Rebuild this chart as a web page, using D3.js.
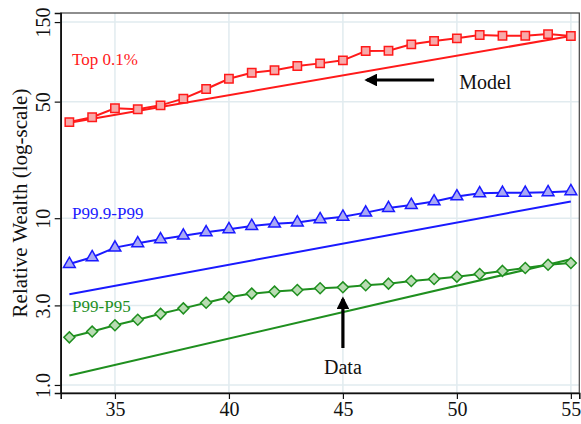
<!DOCTYPE html>
<html>
<head>
<meta charset="utf-8">
<script src="https://cdn.jsdelivr.net/npm/d3@7"></script>
<style>
  body { margin: 0; background: #fff; }
  svg { display: block; }
</style>
</head>
<body>
<div id="chart"></div>
<script>
// ages on the x axis
var ages = [33,34,35,36,37,38,39,40,41,42,43,44,45,46,47,48,49,50,51,52,53,54,55];

// data (markers)
var top01Data = [37.7,40.3,45.6,45.0,47.5,52.1,59.5,68.6,74.5,77.1,81.8,84.8,88.4,100.6,101,110.3,115.5,119.8,125.4,124.2,124.2,127.1,123.7];
var p999Data  = [5.31,5.83,6.66,7.07,7.47,7.86,8.23,8.58,8.98,9.27,9.42,9.85,10.2,10.8,11.5,12.0,12.6,13.5,14.1,14.2,14.2,14.3,14.5];
var p99Data   = [1.93,2.09,2.28,2.46,2.67,2.88,3.11,3.36,3.53,3.63,3.71,3.80,3.85,3.96,4.05,4.20,4.32,4.46,4.63,4.83,5.03,5.26,5.39];

// model (straight lines in log scale, end points)
var modelAges  = [33, 55];
var top01Model = [37.4, 123.7];
var p999Model  = [3.50, 12.6];
var p99Model   = [1.14, 5.67];

var xTicks = [35, 40, 45, 50, 55];
var yTicks = [1, 3, 10, 50, 150];
var yTickLabels = ["1.0", "3.0", "10", "50", "150"];

var W = 581, H = 424;
var m = {left: 60.7, right: 1.7, top: 13, bottom: 31};
var serif = "'Liberation Serif', 'Times New Roman', serif";

var svg = d3.select("#chart").append("svg")
    .attr("width", W).attr("height", H);

var x = d3.scaleLinear().domain([32.62, 55.37]).range([m.left, W - m.right]);
var y = d3.scaleLog().domain([0.895, 170]).range([H - m.bottom, m.top]);

//gridlines
var grid = svg.append("g");
grid.selectAll(".gx").data(xTicks).enter().append("line")
    .attr("x1", d => x(d)).attr("x2", d => x(d))
    .attr("y1", m.top).attr("y2", H - m.bottom)
    .attr("stroke", "#e1ebef").attr("stroke-width", 1.5);
grid.selectAll(".gy").data(yTicks).enter().append("line")
    .attr("x1", m.left).attr("x2", W - m.right)
    .attr("y1", d => y(d)).attr("y2", d => y(d))
    .attr("stroke", "#e1ebef").attr("stroke-width", 1.5);

//frame
svg.append("rect")
    .attr("x", m.left).attr("y", m.top)
    .attr("width", W - m.right - m.left).attr("height", H - m.bottom - m.top)
    .attr("fill", "none").attr("stroke", "#444").attr("stroke-width", 1.2);

//axes
var xAxis = svg.append("g")
    .attr("transform", "translate(0," + (H - m.bottom) + ")")
    .call(d3.axisBottom(x).tickValues(xTicks).tickSize(6).tickPadding(3).tickFormat(d3.format("d")));
xAxis.select(".domain").attr("stroke", "#111").attr("stroke-width", 1.6);
xAxis.selectAll(".tick line").attr("stroke", "#111").attr("stroke-width", 1.2);
xAxis.selectAll(".tick text")
    .attr("font-family", serif).attr("font-size", 20).attr("fill", "#111");

var yAxis = svg.append("g")
    .attr("transform", "translate(" + m.left + ",0)")
    .call(d3.axisLeft(y).tickValues(yTicks).tickSize(6)
      .tickFormat(function(d, i) { return yTickLabels[i]; }));
yAxis.select(".domain").attr("stroke", "#111").attr("stroke-width", 1.6);
yAxis.selectAll(".tick line").attr("stroke", "#111").attr("stroke-width", 1.2);
yAxis.selectAll(".tick text")
    .attr("font-family", serif).attr("font-size", 20).attr("fill", "#111")
    .attr("x", 0).attr("dy", 0)
    .attr("text-anchor", "middle")
    .attr("transform", "translate(-11,0) rotate(-90)");

svg.append("text")
    .attr("transform", "translate(26.5," + ((m.top + H - m.bottom) / 2) + ") rotate(-90)")
    .attr("text-anchor", "middle")
    .attr("font-family", serif).attr("font-size", 21).attr("fill", "#111")
    .text("Relative Wealth (log-scale)");

// diamond drawn as a square turned 45 degrees
var diamondSym = {
  draw: function(ctx, size) {
    var r = Math.sqrt(size / 2);
    ctx.moveTo(0, -r); ctx.lineTo(r, 0); ctx.lineTo(0, r); ctx.lineTo(-r, 0); ctx.closePath();
  }
};

var series = [
  {data: top01Data, model: top01Model, color: "#ff1a1a", fill: "#f7aaaa", shape: d3.symbolSquare, size: 70},
  {data: p999Data,  model: p999Model,  color: "#1a1aff", fill: "#a9a9f5", shape: d3.symbolTriangle, size: 60},
  {data: p99Data,   model: p99Model,   color: "#1f8f1f", fill: "#b9dcb3", shape: diamondSym, size: 60}
];

var line = d3.line().x(d => x(d[0])).y(d => y(d[1]));

series.forEach(function(s) {
  var g = svg.append("g");
  g.append("path")
    .datum(modelAges.map((a, i) => [a, s.model[i]]))
    .attr("d", line).attr("fill", "none")
    .attr("stroke", s.color).attr("stroke-width", 2);
  var pts = ages.map((a, i) => [a, s.data[i]]);
  g.append("path")
    .datum(pts)
    .attr("d", line).attr("fill", "none")
    .attr("stroke", s.color).attr("stroke-width", 2);
  g.selectAll(".pt").data(pts).enter().append("path")
    .attr("transform", d => "translate(" + x(d[0]) + "," + y(d[1]) + ")")
    .attr("d", d3.symbol().type(s.shape).size(s.size))
    .attr("fill", s.fill).attr("stroke", s.color).attr("stroke-width", 1.5);
});

//group labels
var labels = [
  {text: "Top 0.1%", color: "#ff1a1a", xv: 33.12, yp: 65},
  {text: "P99.9-P99", color: "#1a1aff", xv: 33.12, yp: 219},
  {text: "P99-P95", color: "#1f8f1f", xv: 33.12, yp: 312}
];
svg.selectAll(".lab").data(labels).enter().append("text")
    .attr("x", d => x(d.xv)).attr("y", d => d.yp)
    .attr("font-family", serif).attr("font-size", 17)
    .attr("fill", d => d.color).text(d => d.text);

//annotations
var defs = svg.append("defs");
defs.append("marker")
    .attr("id", "ah").attr("viewBox", "0 0 10 10")
    .attr("refX", 8).attr("refY", 5)
    .attr("markerWidth", 4).attr("markerHeight", 4)
    .attr("orient", "auto")
  .append("path").attr("d", "M0,0 L10,5 L0,10 Z").attr("fill", "#000");

svg.append("line")
    .attr("x1", x(49.0)).attr("x2", x(46.05))
    .attr("y1", 80).attr("y2", 80)
    .attr("stroke", "#000").attr("stroke-width", 3.2)
    .attr("marker-end", "url(#ah)");
svg.append("text")
    .attr("x", x(50.1)).attr("y", 89)
    .attr("font-family", serif).attr("font-size", 20).attr("fill", "#111")
    .text("Model");

svg.append("line")
    .attr("x1", x(45)).attr("x2", x(45))
    .attr("y1", 348).attr("y2", 299)
    .attr("stroke", "#000").attr("stroke-width", 3.2)
    .attr("marker-end", "url(#ah)");
svg.append("text")
    .attr("x", x(45)).attr("y", 374)
    .attr("text-anchor", "middle")
    .attr("font-family", serif).attr("font-size", 20).attr("fill", "#111")
    .text("Data");
</script>
</body>
</html>
